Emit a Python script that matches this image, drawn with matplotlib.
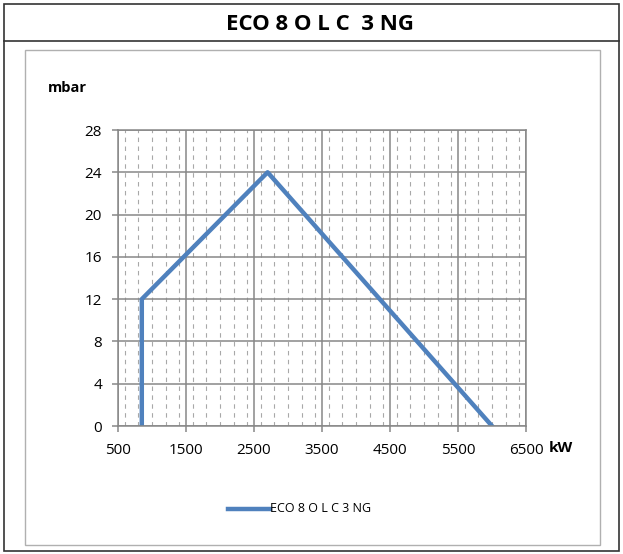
import matplotlib.pyplot as plt
from matplotlib.patches import Rectangle
from matplotlib.lines import Line2D
from matplotlib.ticker import MultipleLocator

# curva di lavoro del bruciatore
potenza = [850, 850, 2700, 6000]
pressione = [0, 12, 24, 0]
serie = "ECO 8 O L C 3 NG"
titolo = "ECO 8 O L C  3 NG"
x_ticks = [500, 1500, 2500, 3500, 4500, 5500, 6500]
y_ticks = [0, 4, 8, 12, 16, 20, 24, 28]

W, H = 623, 554
fig = plt.figure(figsize=(W / 100, H / 100), dpi=100)
plt.rcParams['font.family'] = ['Open Sans', 'DejaVu Sans']

# cornici
fig.add_artist(Rectangle((4 / W, 3 / H), 615 / W, 547 / H, transform=fig.transFigure,
                         fill=False, edgecolor="#333333", linewidth=1.2))
fig.add_artist(Line2D([4 / W, 619 / W], [1 - 41 / H, 1 - 41 / H], transform=fig.transFigure,
                      color="#333333", linewidth=1.2))
fig.add_artist(Rectangle((25 / W, 1 - 545 / H), 575 / W, 495 / H, transform=fig.transFigure,
                         fill=False, edgecolor="#b0b0b0", linewidth=1.0))
fig.text(0.514, 1 - 25 / H, titolo, ha="center", va="center", fontsize=16, fontweight="bold")

ax = fig.add_axes([118 / W, 1 - 426 / H, 408 / W, 296 / H])
ax.plot(potenza, pressione, color="#4F81BD", linewidth=3.2, label=serie)

ax.set_xlim(500, 6500)
ax.set_ylim(0, 28)
ax.set_xticks(x_ticks)
ax.set_yticks(y_ticks)
ax.xaxis.set_minor_locator(MultipleLocator(200))
ax.grid(which="major", color="#878787", linewidth=1.1)
ax.grid(which="minor", axis="x", color="#a8a8a8", linewidth=0.8, linestyle=(0, (4, 4)))
ax.tick_params(which="minor", length=0)
ax.tick_params(which="major", length=4.5, width=1.1, color="#878787", labelsize=11)
ax.tick_params(axis="x", pad=8)
ax.tick_params(axis="y", pad=7)
for s in ax.spines.values():
    s.set_color("#878787")
    s.set_linewidth(1.1)
ax.set_axisbelow(True)

fig.text(48 / W, 1 - 88 / H, "mbar", ha="left", va="center", fontsize=10.5, fontweight="bold")
fig.text(549 / W, 1 - 448 / H, "kW", ha="left", va="center", fontsize=11, fontweight="bold")

fig.add_artist(Line2D([228 / W, 270 / W], [1 - 509 / H, 1 - 509 / H], transform=fig.transFigure,
                      color="#4F81BD", linewidth=3.2))
fig.text(270 / W, 1 - 509 / H, serie, ha="left", va="center", fontsize=9)

fig.savefig("out.png", dpi=100)
